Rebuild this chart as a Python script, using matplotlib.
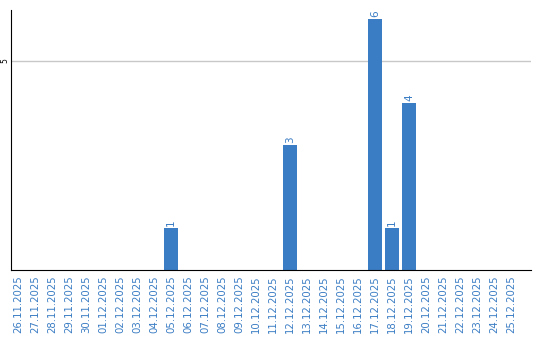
import matplotlib.pyplot as plt
import pandas as pd

# Données
dates = pd.date_range("2025-11-26", "2025-12-25").strftime("%d.%m.%Y").tolist()
valeurs = [0] * len(dates)
comptes = {"05.12.2025": 1, "12.12.2025": 3, "17.12.2025": 6,
           "18.12.2025": 1, "19.12.2025": 4}
for d, v in comptes.items():
    valeurs[dates.index(d)] = v

bleu = "#3b7dc4"

fig = plt.figure(figsize=(5.4, 3.4), dpi=100)
ax = fig.add_axes([11 / 540, 70 / 340, 520 / 540, 260 / 340])

x = list(range(len(dates)))
ax.bar(x, valeurs, width=0.82, color=bleu, zorder=2)
for xi, v in zip(x, valeurs):
    if v > 0:
        ax.text(xi, v + 0.05, str(v), rotation=90, ha="center", va="bottom",
                color=bleu, fontsize=7.5)

ax.set_xlim(-0.41, 30.18)
ax.set_ylim(0, 6.22)
ax.set_yticks([5])
ax.set_yticklabels(["5"], rotation=90, va="center", fontsize=5.5)
ax.set_xticks(x)
ax.set_xticklabels(dates, rotation=90, color=bleu, fontsize=7.3)
ax.tick_params(axis="x", length=0, pad=4)
ax.tick_params(axis="y", length=0, pad=1.5)
ax.grid(axis="y", color="#c8c8c8", linewidth=1, zorder=0)

for s in ["top", "right"]:
    ax.spines[s].set_visible(False)
ax.spines["left"].set_color("black")
ax.spines["bottom"].set_color("black")

fig.savefig("out.png", dpi=100)
